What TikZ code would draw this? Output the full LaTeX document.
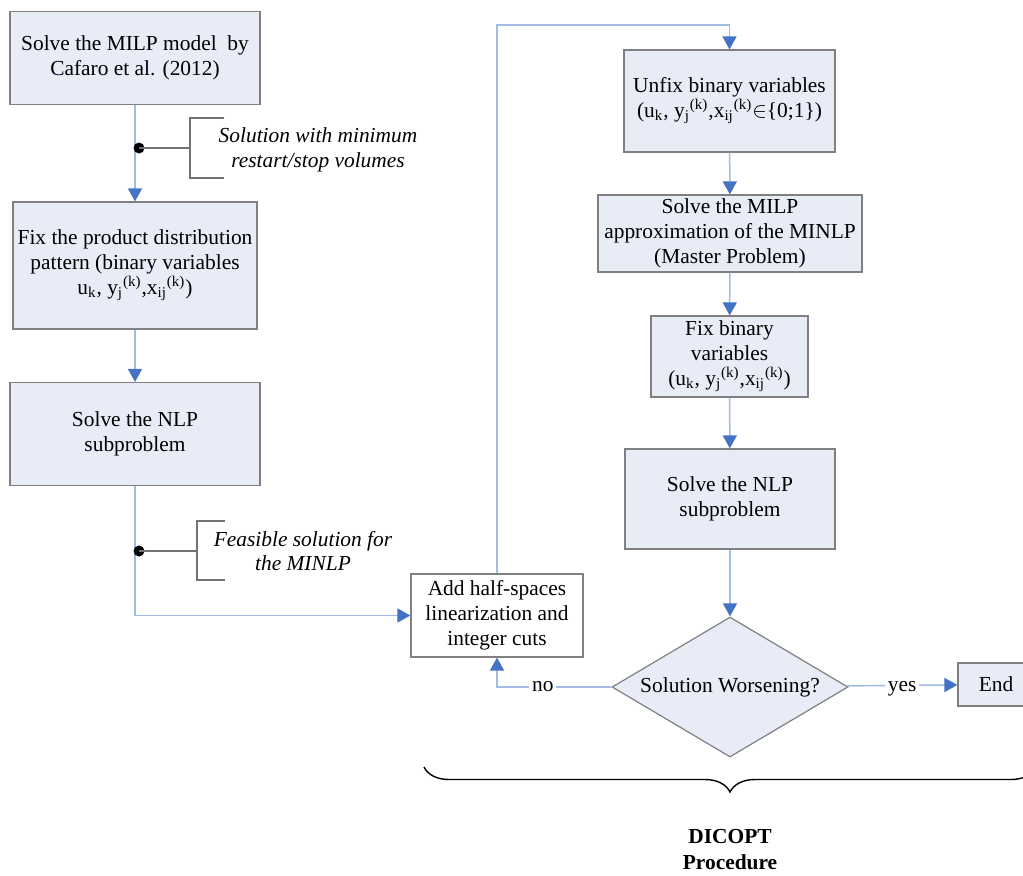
\documentclass[tikz,border=0pt]{standalone}
\usepackage{fontspec}
\setmainfont{Liberation Serif}
\usetikzlibrary{arrows.meta,shapes.geometric,decorations.pathreplacing}

\definecolor{boxfill}{RGB}{231,236,247}
\definecolor{boxline}{RGB}{128,128,128}
\definecolor{connline}{RGB}{160,188,228}
\definecolor{tipblue}{RGB}{68,114,196}

\newcommand{\binvars}{u\textsubscript{k}, y\textsubscript{j}\textsuperscript{(k)},x\textsubscript{ij}\textsuperscript{(k)}}

\tikzset{
  box/.style={draw=boxline, line width=0.6pt, fill=boxfill, align=center, inner sep=0pt},
  dia/.style={diamond, aspect=1.7, draw=boxline, line width=0.6pt, fill=boxfill, inner sep=0pt},
  conn/.style={draw=connline, line width=0.75pt, -{Triangle[color=tipblue,length=6.5pt,width=7pt]}},
  note/.style={draw=black!55, line width=0.55pt},
  ital/.style={align=center, font=\fontsize{10.7}{12.4}\selectfont\itshape},
  lbl/.style={fill=white, inner sep=1.5pt, text height=1ex, text depth=0pt},
  bigbrace/.style={decorate, decoration={brace, mirror, amplitude=12.5pt}, line width=0.7pt}
}

\begin{document}
\begin{tikzpicture}[x=0.5pt, y=-0.5pt, every node/.style={font=\fontsize{10.7}{12.4}\selectfont}]
  \useasboundingbox (0,0) rectangle (1023,875);
  % left column
  \node[box, minimum width=125pt, minimum height=46.5pt] (milp) at (135,58) {Solve the MILP model \ by\\Cafaro et al. (2012)};
  \node[box, minimum width=122pt, minimum height=63.5pt] (fixpat) at (135,265.5) {Fix the product distribution\\pattern (binary variables\\\binvars)};
  \node[box, minimum width=125pt, minimum height=51.5pt] (nlp) at (135,434) {Solve the NLP\\subproblem};
  \node[box, fill=white, minimum width=86pt, minimum height=41.5pt] (cuts) at (497,615.5) {Add half-spaces\\linearization and\\integer cuts};
  % right column
  \node[box, minimum width=105.5pt, minimum height=51pt] (unfix) at (729.5,101) {Unfix binary variables\\(\binvars$\in$\{0;1\})};
  \node[box, minimum width=132pt, minimum height=38.5pt] (master) at (730,233.5) {Solve the MILP\\approximation of the MINLP\\(Master Problem)};
  \node[box, minimum width=78.5pt, minimum height=40.5pt] (fixbin) at (729.5,356.5) {Fix binary\\variables\\(\binvars)};
  \node[box, minimum width=105pt, minimum height=50pt] (nlp2) at (730,499) {Solve the NLP\\subproblem};
  \node[dia, minimum width=118pt, minimum height=70pt] (worse) at (730,687) {Solution Worsening?};
  \node[box, minimum width=38pt, minimum height=21.5pt] (end) at (996,684.5) {End};
  \coordinate (top) at (497,25);

  \draw[conn] (milp) -- (fixpat);
  \draw[conn] (fixpat) -- (nlp);
  \draw[conn] (nlp) |- (cuts);
  \draw[conn] (cuts) |- (top) -| (unfix);
  \draw[conn] (unfix) -- (master);
  \draw[conn] (master) -- (fixbin);
  \draw[conn] (fixbin) -- (nlp2);
  \draw[conn] (nlp2) -- (worse);
  \draw[conn] (worse) -| node[lbl, pos=0.3] {no} (cuts);
  \draw[conn] (worse) -- node[lbl, yshift=-1pt] {yes} (end);

  % notes on the left column
  \coordinate (tap1) at (139,148);
  \fill (tap1) circle [radius=5.5];
  \draw[note] (tap1) -- (190,148);
  \draw[note] (224,118) -- (190,118) -- (190,178) -- (224,178);
  \node[ital] (sol1) at (318,150) {Solution with minimum\\restart/stop volumes};
  \coordinate (tap2) at (139,551);
  \fill (tap2) circle [radius=5.5];
  \draw[note] (tap2) -- (197,551);
  \draw[note] (225,521) -- (197,521) -- (197,580) -- (225,580);
  \node[ital] (sol2) at (303,551) {Feasible solution for\\the MINLP};

  % DICOPT part
  \draw[bigbrace] (424,767) -- (1036,767);
  \node[align=center, font=\fontsize{10.7}{13}\selectfont\bfseries] (dicopt) at (730,850) {DICOPT\\Procedure};
\end{tikzpicture}
\end{document}
